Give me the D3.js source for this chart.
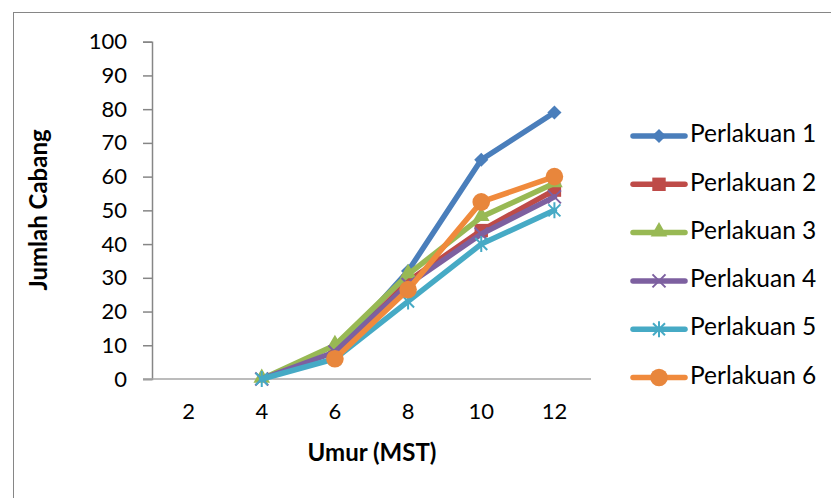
<!DOCTYPE html>
<html>
<head>
<meta charset="utf-8">
<script src="https://cdn.jsdelivr.net/npm/d3@7"></script>
<style>
  body { margin: 0; background: #fff; }
  text { font-family: Lato, "Open Sans", sans-serif; fill: #000; }
</style>
</head>
<body>
<svg id="chart" width="831" height="498"></svg>
<script>
// data
const weeks = ["2", "4", "6", "8", "10", "12"];
const yTicks = [0, 10, 20, 30, 40, 50, 60, 70, 80, 90, 100];
const seriesNames = ["Perlakuan 1", "Perlakuan 2", "Perlakuan 3", "Perlakuan 4", "Perlakuan 5", "Perlakuan 6"];
const p1 = [null, null, 8, 32, 65, 79];
const p2 = [null, null, 7, 29, 44, 56];
const p3 = [null, 0, 10, 31, 48, 58];
const p4 = [null, 0, 8, 28, 43, 54];
const p5 = [null, 0, 6, 23, 40, 50];
const p6 = [null, null, 6, 26.5, 52.5, 60];
const allSeries = [p1, p2, p3, p4, p5, p6];

const lineColors = ["#4A7EBB", "#BE4B48", "#98B954", "#7D60A0", "#46AAC5", "#F08A3C"];
const markColors = ["#4A7EBB", "#BE4B48", "#98B954", "#7D60A0", "#46AAC5", "#E8863C"];
const markers = ["diamond", "square", "triangle", "x", "star", "circle"];

const svg = d3.select("#chart");

// outer frame
svg.append("rect")
  .attr("x", 13.5).attr("y", 12.5)
  .attr("width", 840).attr("height", 500)
  .attr("fill", "none")
  .attr("stroke", "#868686")
  .attr("stroke-width", 1);

const plotLeft = 152, plotRight = 591, plotTop = 41.7, plotBottom = 379;

const x = d3.scaleBand()
  .domain(weeks)
  .range([plotLeft, plotRight])
  .padding(0);
const cx = d => x(d) + x.bandwidth() / 2;

const y = d3.scaleLinear()
  .domain([0, 100])
  .range([plotBottom, plotTop]);

// Y axis
const yAxis = svg.append("g")
  .attr("transform", "translate(" + plotLeft + ",0)")
  .call(d3.axisLeft(y).tickValues(yTicks).tickSize(9).tickPadding(16));
yAxis.select(".domain").attr("stroke", "#868686").attr("stroke-width", 1.5);
yAxis.selectAll(".tick line").attr("stroke", "#868686").attr("stroke-width", 1.5);
yAxis.selectAll("text")
  .style("font-family", "Lato")
  .style("font-size", "22px")
  .attr("fill", "#000");

// X axis
const xAxis = svg.append("g")
  .attr("transform", "translate(0," + plotBottom + ")")
  .call(d3.axisBottom(x).tickSize(0).tickPadding(24));
xAxis.select(".domain")
  .attr("d", "M" + (plotLeft - 9) + ",0H" + plotRight)
  .attr("stroke", "#a6a6a6").attr("stroke-width", 1.5);
xAxis.selectAll("text")
  .style("font-family", "Lato")
  .style("font-size", "22px")
  .attr("fill", "#000");

// axis titles
svg.append("text")
  .attr("transform", "translate(41," + 210 + ") rotate(-90)")
  .attr("text-anchor", "middle")
  .attr("dominant-baseline", "middle")
  .style("font-size", "24px")
  .style("font-weight", "bold")
  .text("Jumlah Cabang");

svg.append("text")
  .attr("x", 372).attr("y", 455)
  .attr("text-anchor", "middle")
  .attr("dominant-baseline", "middle")
  .style("font-size", "24px")
  .style("font-weight", "bold")
  .text("Umur (MST)");

// marker drawing
function drawMarker(g, type, px, py, color) {
  if (type === "diamond") {
    g.append("path")
      .attr("d", d3.symbol(d3.symbolSquare, 100)())
      .attr("transform", "translate(" + px + "," + py + ") rotate(45)")
      .attr("fill", color);
  } else if (type === "square") {
    g.append("path")
      .attr("d", d3.symbol(d3.symbolSquare, 180)())
      .attr("transform", "translate(" + px + "," + py + ")")
      .attr("fill", color);
  } else if (type === "triangle") {
    g.append("path")
      .attr("d", d3.symbol(d3.symbolTriangle, 120)())
      .attr("transform", "translate(" + px + "," + (py - 1) + ")")
      .attr("fill", color);
  } else if (type === "circle") {
    g.append("circle")
      .attr("cx", px).attr("cy", py).attr("r", 8.8)
      .attr("fill", color);
  } else if (type === "x") {
    g.append("path")
      .attr("d", "M-6.5,-6.5L6.5,6.5M-6.5,6.5L6.5,-6.5")
      .attr("transform", "translate(" + px + "," + py + ")")
      .attr("stroke", color).attr("stroke-width", 2);
  } else if (type === "star") {
    g.append("path")
      .attr("d", "M-6,-6L6,6M-6,6L6,-6M0,-8L0,8")
      .attr("transform", "translate(" + px + "," + py + ")")
      .attr("stroke", color).attr("stroke-width", 2);
  }
}

// lines + markers
const line = d3.line()
  .defined(d => d.v !== null)
  .x(d => cx(d.k))
  .y(d => y(d.v));

allSeries.forEach(function(vals, i) {
  const pts = vals.map((v, j) => ({k: weeks[j], v: v}));
  const g = svg.append("g");
  g.append("path")
    .datum(pts)
    .attr("d", line)
    .attr("fill", "none")
    .attr("stroke", lineColors[i])
    .attr("stroke-width", 5.5)
    .attr("stroke-linejoin", "round")
    .attr("stroke-linecap", "round");
  pts.filter(d => d.v !== null).forEach(function(d) {
    drawMarker(g, markers[i], cx(d.k), y(d.v), markColors[i]);
  });
});

// legend
const legend = svg.append("g");
seriesNames.forEach(function(name, i) {
  const ly = 136 + i * 48.3;
  legend.append("line")
    .attr("x1", 633).attr("x2", 685)
    .attr("y1", ly).attr("y2", ly)
    .attr("stroke", lineColors[i])
    .attr("stroke-width", 5.5)
    .attr("stroke-linecap", "round");
  drawMarker(legend, markers[i], 659, ly, markColors[i]);
  legend.append("text")
    .attr("x", 690).attr("y", ly)
    .attr("dominant-baseline", "middle")
    .style("font-size", "24.5px")
    .text(name);
});
</script>
</body>
</html>
